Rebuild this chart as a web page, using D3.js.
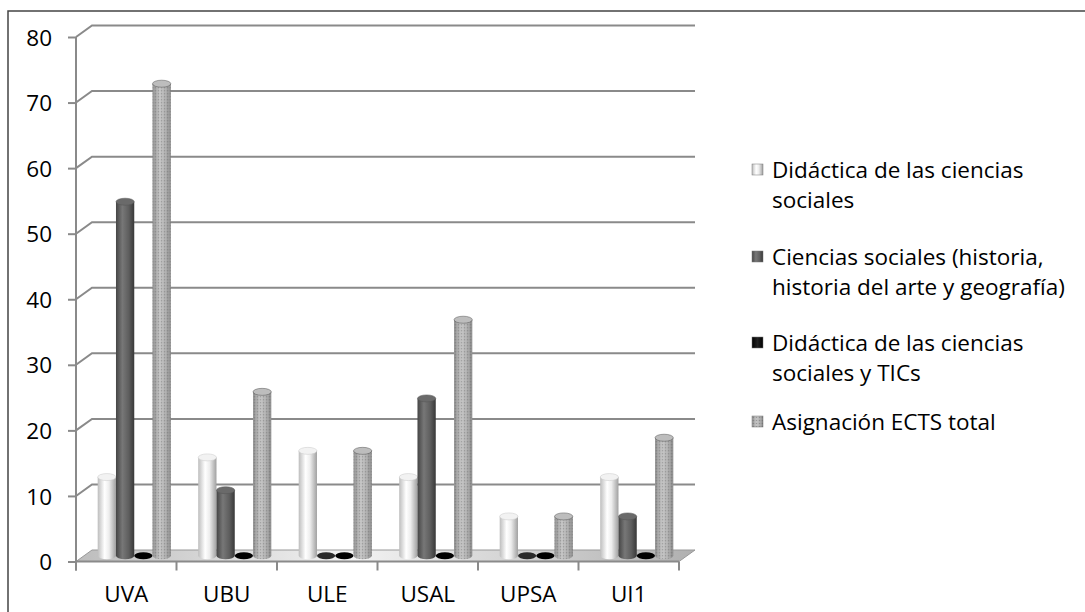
<!DOCTYPE html>
<html>
<head>
<meta charset="utf-8">
<script src="https://cdn.jsdelivr.net/npm/d3@7"></script>
<style>
  body { margin: 0; background: #fff; }
  text { font-family: "Open Sans", sans-serif; fill: #000; }
</style>
</head>
<body>
<div id="chart"></div>
<script>
const width = 1085;
const height = 612;

const universities = ['UVA', 'UBU', 'ULE', 'USAL', 'UPSA', 'UI1'];
const seriesNames = [
  ['Didáctica de las ciencias', 'sociales'],
  ['Ciencias sociales (historia,', 'historia del arte y geografía)'],
  ['Didáctica de las ciencias', 'sociales y TICs'],
  ['Asignación ECTS total']
];
const didactica = [12, 15, 16, 12, 6, 12];
const cienciasSociales = [54, 10, 0, 24, 0, 6];
const didacticaTic = [0, 0, 0, 0, 0, 0];
const ectsTotal = [72, 25, 16, 36, 6, 18];
const yTicks = [0, 10, 20, 30, 40, 50, 60, 70, 80];

const series = [didactica, cienciasSociales, didacticaTic, ectsTotal];

// depth offset of the 3d box
const dx = 16, dy = -11.5;
const fontSize = '22.5px';

const svg = d3.select('#chart').append('svg')
  .attr('width', width)
  .attr('height', height);

const defs = svg.append('defs');

const grad = (id, stops) => {
  const g = defs.append('linearGradient').attr('id', id)
    .attr('x1', '0%').attr('x2', '100%').attr('y1', '0%').attr('y2', '0%');
  stops.forEach(s => g.append('stop').attr('offset', s[0]).attr('stop-color', s[1]));
};
grad('g0', [['0%', '#bdbdbd'], ['38%', '#ffffff'], ['62%', '#ededed'], ['100%', '#a0a0a0']]);
grad('g1', [['0%', '#454545'], ['35%', '#777'], ['70%', '#5e5e5e'], ['100%', '#383838']]);
grad('g2', [['0%', '#000'], ['50%', '#222'], ['100%', '#000']]);
grad('g3', [['0%', '#8a8a8a'], ['40%', '#c2c2c2'], ['70%', '#adadad'], ['100%', '#858585']]);
grad('gFloor', [['0%', '#bdbdbd'], ['45%', '#f2f2f2'], ['100%', '#b0b0b0']]);

// dotted texture for the total series
const pat = defs.append('pattern').attr('id', 'dots')
  .attr('width', 3).attr('height', 3).attr('patternUnits', 'userSpaceOnUse');
pat.append('rect').attr('width', 1).attr('height', 1).attr('fill', '#666').attr('opacity', 0.45);
pat.append('rect').attr('x', 1.5).attr('y', 1.5).attr('width', 1).attr('height', 1).attr('fill', '#fff').attr('opacity', 0.35);

const fills = ['url(#g0)', 'url(#g1)', 'url(#g2)', 'url(#g3)'];
const capFills = ['#f2f2f2', '#6a6a6a', '#111', '#bdbdbd'];

// chart frame
svg.append('rect')
  .attr('x', 8).attr('y', 11)
  .attr('width', 1100).attr('height', 620)
  .attr('fill', 'none').attr('stroke', '#444').attr('stroke-width', 1.5);

const x = d3.scaleBand().domain(universities).range([76, 679]);
const xs = d3.scaleBand().domain(d3.range(4)).range([0, x.bandwidth()]).paddingOuter(0.75);
const y = d3.scaleLinear().domain([0, 80]).range([561.5, 37]);

const gridColor = '#8a8a8a';

// floor
const y0 = y(0);
svg.append('path')
  .attr('d', `M${x.range()[0]},${y0} L${x.range()[0] + dx},${y0 + dy} L${x.range()[1] + dx},${y0 + dy} L${x.range()[1]},${y0} Z`)
  .attr('fill', 'url(#gFloor)').attr('stroke', '#999').attr('stroke-width', 1);

// gridlines (side wall diagonal + back wall)
svg.append('g').selectAll('path').data(yTicks.filter(d => d > 0)).join('path')
  .attr('d', d => `M${x.range()[0]},${y(d)} L${x.range()[0] + dx},${y(d) + dy} L${x.range()[1] + dx},${y(d) + dy}`)
  .attr('fill', 'none').attr('stroke', gridColor).attr('stroke-width', 2);

// y axis
const yAxis = svg.append('g').attr('transform', `translate(${x.range()[0]},0)`)
  .call(d3.axisLeft(y).tickValues(yTicks).tickSize(8).tickPadding(16));
yAxis.select('.domain').attr('stroke', gridColor).attr('stroke-width', 2)
  .attr('d', `M0,${y(80)} V${y0 + 9}`);
yAxis.selectAll('line').attr('stroke', gridColor).attr('stroke-width', 2);
yAxis.selectAll('text').style('font-size', fontSize).attr('dy', '0.36em');

// x axis
const xAxis = svg.append('g').attr('transform', `translate(0,${y0})`)
  .call(d3.axisBottom(x).tickSize(0).tickPadding(25));
xAxis.select('.domain').attr('stroke', gridColor).attr('stroke-width', 2)
  .attr('d', `M${x.range()[0]},0 H${x.range()[1]}`);
xAxis.selectAll('text').style('font-size', fontSize);
xAxis.selectAll('.tick line').remove();
xAxis.append('g').selectAll('line').data(universities.concat(['end'])).join('line')
  .attr('x1', (d, i) => x.range()[0] + i * x.step())
  .attr('x2', (d, i) => x.range()[0] + i * x.step())
  .attr('y1', 0).attr('y2', 9)
  .attr('stroke', gridColor).attr('stroke-width', 2);

// cylinders, placed at mid depth
const bw = xs.bandwidth();
const ry = 3.5;
const bars = svg.append('g').attr('transform', `translate(${dx / 2},${dy / 2})`);
universities.forEach((u, i) => {
  series.forEach((s, k) => {
    const v = s[i];
    const cx = x(u) + xs(k) + bw / 2;
    const top = y(v);
    const g = bars.append('g');
    if (v === 0) {
      g.append('ellipse').attr('cx', cx).attr('cy', y0).attr('rx', bw / 2).attr('ry', ry)
        .attr('fill', k === 2 ? '#000' : '#2a2a2a');
      return;
    }
    const body = `M${cx - bw / 2},${top} V${y0} A${bw / 2},${ry} 0 0 0 ${cx + bw / 2},${y0} V${top} Z`;
    g.append('path').attr('d', body).attr('fill', fills[k]);
    if (k === 3) g.append('path').attr('d', body).attr('fill', 'url(#dots)');
    g.append('ellipse').attr('cx', cx).attr('cy', top).attr('rx', bw / 2).attr('ry', ry)
      .attr('fill', capFills[k]).attr('stroke', k === 0 ? '#c8c8c8' : '#555').attr('stroke-width', 0.5);
  });
});

// legend
const legendY = [170, 257, 343, 422];
const legend = svg.append('g');
seriesNames.forEach((lines, k) => {
  const gy = legendY[k];
  legend.append('rect').attr('x', 752).attr('y', gy - 6).attr('width', 11).attr('height', 11)
    .attr('fill', fills[k]).attr('stroke', '#777').attr('stroke-width', 0.5);
  if (k === 3) legend.append('rect').attr('x', 752).attr('y', gy - 6).attr('width', 11).attr('height', 11)
    .attr('fill', 'url(#dots)');
  lines.forEach((t, j) => {
    legend.append('text').attr('x', 772).attr('y', gy + j * 30).attr('dy', '0.36em')
      .style('font-size', fontSize).text(t);
  });
});
</script>
</body>
</html>
